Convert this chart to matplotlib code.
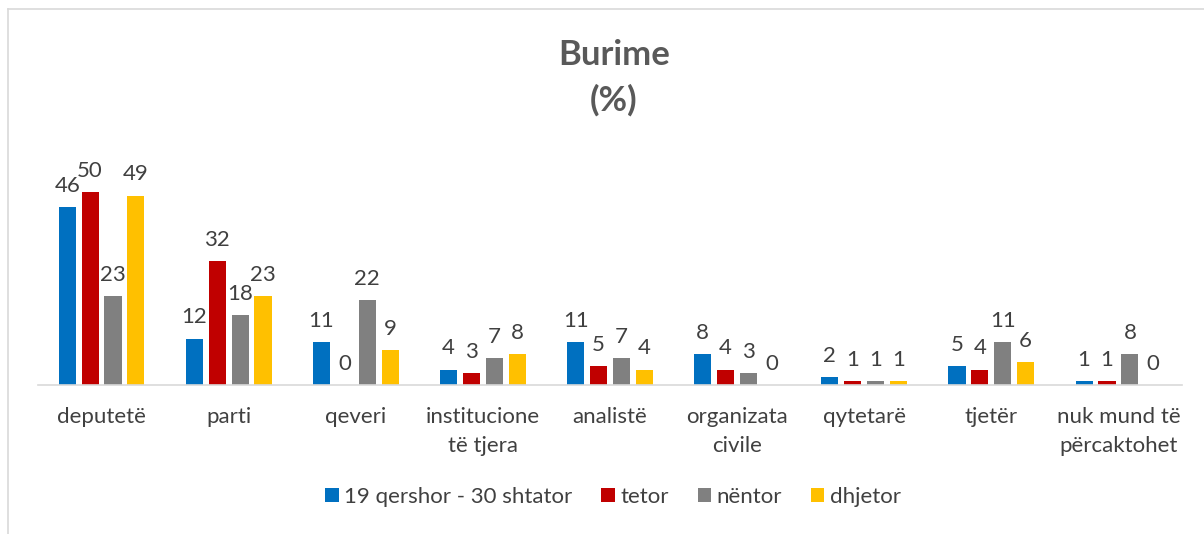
import numpy as np
import matplotlib
matplotlib.use("Agg")
import matplotlib.pyplot as plt
from matplotlib.lines import Line2D

plt.rcParams['font.family'] = ['Lato', 'DejaVu Sans']

categories = ['deputetë', 'parti', 'qeveri', 'institucione\ntë tjera', 'analistë',
              'organizata\ncivile', 'qytetarë', 'tjetër', 'nuk mund të\npërcaktohet']
series_names = ['19 qershor - 30 shtator', 'tetor', 'nëntor', 'dhjetor']
qershor_shtator = [46, 12, 11, 4, 11, 8, 2, 5, 1]
tetor = [50, 32, 0, 3, 5, 4, 1, 4, 1]
nentor = [23, 18, 22, 7, 7, 3, 1, 11, 8]
dhjetor = [49, 23, 9, 8, 4, 0, 1, 6, 0]
colors = ['#0070C0', '#C00000', '#808080', '#FFC000']

series = [qershor_shtator, tetor, nentor, dhjetor]
text_col = '#404040'

fig = plt.figure(figsize=(12.04, 5.34), dpi=100)
ax = fig.add_axes([38 / 1204, (534 - 385) / 534, (1182 - 38) / 1204, 232 / 534])

x = np.arange(len(categories))
step = 0.18
width = 0.135
for i, (vals, col, name) in enumerate(zip(series, colors, series_names)):
    pos = x + (i - 1.5) * step
    bars = ax.bar(pos, vals, width, color=col, label=name, zorder=2)
    for b, v in zip(bars, vals):
        ax.annotate(str(v), (b.get_x() + b.get_width() / 2, v),
                    xytext=(0, 8), textcoords='offset points',
                    ha='center', va='bottom', fontsize=16, color=text_col)

ax.set_xlim(-0.5, len(categories) - 0.5)
ax.set_ylim(0, 60)
ax.set_yticks([])
ax.set_xticks(x)
ax.set_xticklabels(categories, fontsize=16, color=text_col, linespacing=1.55)
ax.tick_params(axis='x', length=0, pad=16)
for s in ['top', 'right', 'left']:
    ax.spines[s].set_visible(False)
ax.spines['bottom'].set_color('#D9D9D9')
ax.spines['bottom'].set_linewidth(1.2)

fig.text(0.51, 1 - 55 / 534, 'Burime', ha='center', va='center',
         fontsize=25, fontweight='bold', color='#595959')
fig.text(0.51, 1 - 100 / 534, '(%)', ha='center', va='center',
         fontsize=25, fontweight='bold', color='#595959')

leg = fig.legend(loc='center', bbox_to_anchor=(613 / 1204, 1 - 497 / 534), ncol=4,
                 frameon=False, fontsize=16, handlelength=0.6, handleheight=0.6,
                 handletextpad=0.25, columnspacing=1.3)
for t in leg.get_texts():
    t.set_color(text_col)

# chart border (clipped at right and bottom)
fig.add_artist(Line2D([8 / 1204, 1], [1 - 9 / 534, 1 - 9 / 534], color='#D9D9D9', lw=1.2,
                      transform=fig.transFigure))
fig.add_artist(Line2D([8 / 1204, 8 / 1204], [0, 1 - 9 / 534], color='#D9D9D9', lw=1.2,
                      transform=fig.transFigure))

fig.savefig('out.png', dpi=100)
